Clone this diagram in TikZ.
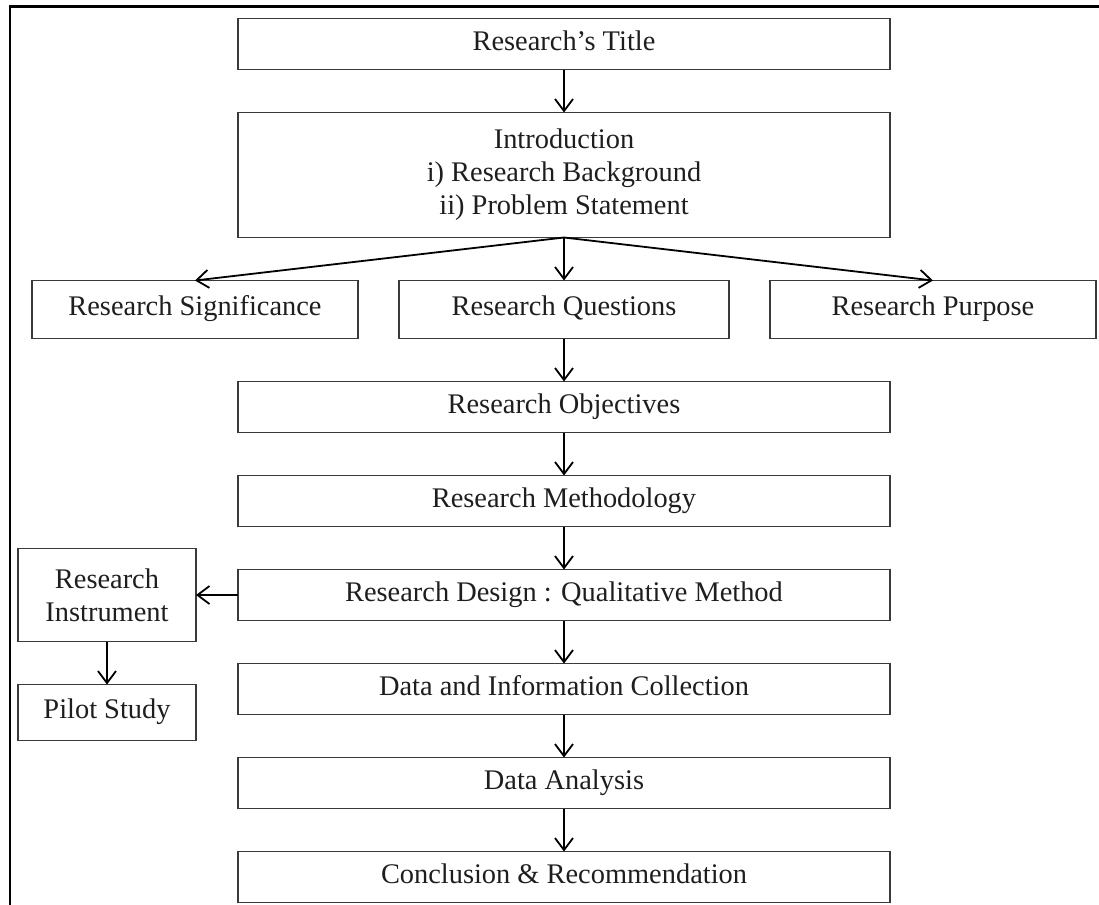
\documentclass[tikz,border=0pt]{standalone}
\usepackage{fontspec}
\setmainfont{Liberation Serif}
\usetikzlibrary{positioning,arrows.meta}
\definecolor{boxgray}{HTML}{3A3A3A}
\definecolor{textgray}{HTML}{1E1E1E}

\begin{document}
\begin{tikzpicture}[x=0.5pt, y=-0.5pt, node distance=21.5pt,
  >={Straight Barb[length=6pt,width=9pt]},
  box/.style={draw=boxgray, line width=0.8pt, inner sep=0pt, outer sep=0pt,
    text=textgray, align=center, font=\fontsize{14.2}{16.5}\selectfont},
  oneline/.style={text height=9.4pt, text depth=3pt},
  main/.style={box, oneline, minimum width=326pt, minimum height=25.5pt},
  side/.style={box, oneline, minimum width=163pt, minimum height=29pt},
  small/.style={box, minimum width=89pt},
  link/.style={->, line width=0.9pt, black}]
\useasboundingbox (0,0) rectangle (1099,905);
\draw[line width=1.1pt] (10.3,905) -- (10.3,6.5) -- (1099,6.5);

\node[main] (title) at (564,44) {Research's Title};
\node[box, minimum width=326pt, minimum height=62.5pt, below=of title] (intro) {Introduction\\i) Research Background\\ii) Problem Statement};
\node[side, minimum width=165pt, below=of intro] (quest) {Research Questions};
\node[side, left=20.5pt of quest] (signif) {Research Significance};
\node[side, right=20.5pt of quest] (purpose) {Research Purpose};
\node[main, below=of quest] (object) {Research Objectives};
\node[main, below=of object] (method) {Research Methodology};
\node[main, below=of method] (design) {Research Design : Qualitative Method};
\node[main, below=of design] (collect) {Data and Information Collection};
\node[main, below=of collect] (analysis) {Data Analysis};
\node[main, below=of analysis] (concl) {Conclusion \& Recommendation};
\node[small, minimum height=46.5pt, left=21pt of design] (instr) {Research\\Instrument};
\node[small, oneline, minimum height=28pt, below=of instr] (pilot) {Pilot Study};

\draw[link] (title) -- (intro);
\draw[link] (intro.south) -- (signif.north);
\draw[link] (intro.south) -- (quest.north);
\draw[link] (intro.south) -- (purpose.north);
\draw[link] (quest) -- (object);
\draw[link] (object) -- (method);
\draw[link] (method) -- (design);
\draw[link] (design) -- (instr);
\draw[link] (instr) -- (pilot);
\draw[link] (design) -- (collect);
\draw[link] (collect) -- (analysis);
\draw[link] (analysis) -- (concl);
\end{tikzpicture}
\end{document}
